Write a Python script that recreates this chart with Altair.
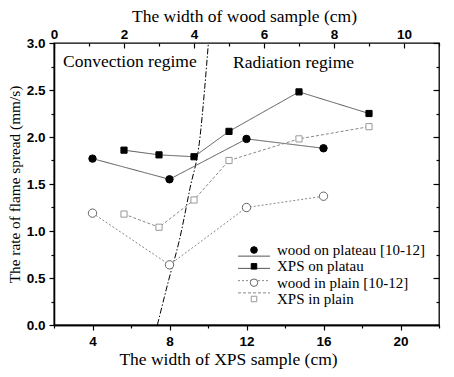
import altair as alt
import pandas as pd

# ---------------- data ----------------
wood_width_xps_axis = [4, 8, 12, 16]          # plotted against the XPS (bottom) axis
wood_plateau = [1.77, 1.55, 1.98, 1.88]
wood_plain = [1.19, 0.64, 1.25, 1.37]
xps_width_wood_axis = [2, 3, 4, 5, 7, 9]      # plotted against the wood (top) axis
xps_plateau = [1.86, 1.81, 1.79, 2.06, 2.48, 2.25]
xps_plain = [1.18, 1.04, 1.33, 1.75, 1.98, 2.11]
boundary_x = [7.37, 7.96, 8.51, 9.06, 9.58, 9.82, 10.02]
boundary_y = [0.0, 0.48, 0.90, 1.45, 1.99, 2.50, 3.00]
regime_labels = ["Convection regime", "Radiation regime"]
regime_x = [2.47, 11.3]
regime_y = [2.74, 2.73]
series_names = ["wood on plateau [10-12]", "XPS on platau", "wood in plain [10-12]", "XPS in plain"]
bottom_major = [4, 8, 12, 16, 20]
bottom_minor = [2, 6, 10, 14, 18, 22]
top_major = [0, 2, 4, 6, 8, 10]
top_minor = [1, 3, 5, 7, 9, 11]
y_major = [0, 0.5, 1, 1.5, 2, 2.5, 3]
y_minor = [0.25, 0.75, 1.25, 1.75, 2.25, 2.75]

W, H = 385, 282
SERIF = "Liberation Serif"
SANS = "Liberation Sans"


def sx_b():
    return alt.Scale(domain=[2, 22], nice=False, zero=False)


def sx_t():
    return alt.Scale(domain=[0, 11], nice=False, zero=False)


def sy():
    return alt.Scale(domain=[0, 3], nice=False, zero=False)


common = dict(grid=False, domainColor="black", domainWidth=1.3, tickColor="black",
              tickWidth=1.2, labelFont=SANS, labelFontWeight="bold", labelFontSize=13.5,
              labelColor="black", labelFlush=False, titleFont=SERIF,
              titleFontWeight="normal", titleColor="black")

bottom_major_axis = alt.Axis(orient="bottom", values=bottom_major, tickSize=5, labelPadding=4,
                             format="d", title="The width of  XPS sample (cm)", titleX=174,
                             titleY=39, titleAlign="center", titleBaseline="alphabetic",
                             titleFontSize=17.5, **common)
bottom_minor_axis = alt.Axis(orient="bottom", values=bottom_minor, tickSize=3, labels=False,
                             title=None, **common)
left_major_axis = alt.Axis(orient="left", values=y_major, tickSize=5, labelPadding=4,
                           format=".1f", title="The rate of flame spread (mm/s)", titleAngle=270,
                           titleX=-40, titleY=141, titleAlign="center", titleBaseline="middle",
                           titleFontSize=15.3, **common)
left_minor_axis = alt.Axis(orient="left", values=y_minor, tickSize=3, labels=False,
                           title=None, **common)
top_major_axis = alt.Axis(orient="top", values=top_major, tickSize=5, offset=-5, domain=False,
                          labelPadding=2, format="d", title="The width of wood sample (cm)",
                          titleX=190, titleY=-27, titleAlign="center",
                          titleBaseline="alphabetic", titleFontSize=17.5, **common)
top_minor_axis = alt.Axis(orient="top", values=top_minor, tickSize=3, offset=-3, domain=False,
                          labels=False, title=None, **common)
right_major_axis = alt.Axis(orient="right", values=y_major, tickSize=6, offset=-6, domain=False,
                            labels=False, title=None, **common)
right_minor_axis = alt.Axis(orient="right", values=y_minor, tickSize=3, offset=-3, domain=False,
                            labels=False, title=None, **common)

dummy = pd.DataFrame({"x": [5], "y": [1]})
dummy_t = pd.DataFrame({"x": [5], "y": [1]})

axis_layers = [
    alt.Chart(dummy).mark_point(opacity=0).encode(
        x=alt.X("x:Q", scale=sx_b(), axis=bottom_major_axis),
        y=alt.Y("y:Q", scale=sy(), axis=left_major_axis)),
    alt.Chart(dummy).mark_point(opacity=0).encode(
        x=alt.X("x:Q", scale=sx_b(), axis=bottom_minor_axis),
        y=alt.Y("y:Q", scale=sy(), axis=left_minor_axis)),
    alt.Chart(dummy_t).mark_point(opacity=0).encode(
        x=alt.X("x:Q", scale=sx_t(), axis=top_major_axis),
        y=alt.Y("y:Q", scale=sy(), axis=right_major_axis)),
    alt.Chart(dummy_t).mark_point(opacity=0).encode(
        x=alt.X("x:Q", scale=sx_t(), axis=top_minor_axis),
        y=alt.Y("y:Q", scale=sy(), axis=right_minor_axis)),
]

wood_df = pd.DataFrame({"x": wood_width_xps_axis, "plateau": wood_plateau, "plain": wood_plain})
xps_df = pd.DataFrame({"x": xps_width_wood_axis, "plateau": xps_plateau, "plain": xps_plain})
bound_df = pd.DataFrame({"x": boundary_x, "y": boundary_y})
regime_df = pd.DataFrame({"label": regime_labels, "x": regime_x, "y": regime_y})

styles = [
    dict(line="#555555", dash=[1, 0], shape="circle", fill="black", stroke="black", size=55),
    dict(line="#555555", dash=[1, 0], shape="square", fill="black", stroke="black", size=38),
    dict(line="#888888", dash=[2, 2], shape="circle", fill="white", stroke="#666666", size=70),
    dict(line="#888888", dash=[3, 2], shape="square", fill="white", stroke="#999999", size=38),
]


def xb(field):
    return alt.X(f"{field}:Q", scale=sx_b(), axis=None)


def xt(field):
    return alt.X(f"{field}:Q", scale=sx_t(), axis=None)


def yq(field):
    return alt.Y(f"{field}:Q", scale=sy(), axis=None)


boundary = alt.Chart(bound_df).mark_line(color="black", strokeWidth=1, strokeDash=[6, 2, 1.5, 2],
                                         interpolate="monotone").encode(x=xb("x"), y=yq("y"))

series_specs = [
    (wood_df, "plateau", xb, styles[0]),
    (xps_df, "plateau", xt, styles[1]),
    (wood_df, "plain", xb, styles[2]),
    (xps_df, "plain", xt, styles[3]),
]

line_layers = []
point_layers = []
for df, col, xf, st in series_specs:
    line_layers.append(
        alt.Chart(df).mark_line(color=st["line"], strokeWidth=1, strokeDash=st["dash"]).encode(
            x=xf("x"), y=yq(col)))
    point_layers.append(
        alt.Chart(df).mark_point(shape=st["shape"], filled=True, fill=st["fill"], stroke=st["stroke"],
                                 strokeWidth=1, size=st["size"], opacity=1, fillOpacity=1).encode(
            x=xf("x"), y=yq(col)))

regimes = alt.Chart(regime_df).mark_text(font=SERIF, fontSize=17.5, align="left",
                                         baseline="alphabetic", color="black").encode(
    x=xb("x"), y=yq("y"), text="label:N")

legend_layers = []
for name, st in zip(series_names, styles):
    ldf = pd.DataFrame({"name": [name]})
    ly = alt.Y("name:N", scale=alt.Scale(domain=series_names, range=[207, 256], padding=0),
               axis=None)
    legend_layers.append(
        alt.Chart(ldf).mark_rule(color=st["line"], strokeWidth=1, strokeDash=st["dash"]).encode(
            x=alt.value(184), x2=alt.value(216), y=ly))
    legend_layers.append(
        alt.Chart(ldf).mark_point(shape=st["shape"], filled=True, fill=st["fill"],
                                  stroke=st["stroke"], strokeWidth=1, size=st["size"] * 0.8,
                                  opacity=1, fillOpacity=1).encode(x=alt.value(200), y=ly))
    legend_layers.append(
        alt.Chart(ldf).mark_text(font=SERIF, fontSize=15, align="left", baseline="middle",
                                 color="black").encode(x=alt.value(223), y=ly, text="name:N"))

chart = alt.layer(
    *axis_layers, boundary, *line_layers, *point_layers, regimes, *legend_layers
).resolve_scale(x="independent", y="independent").properties(
    width=W, height=H,
    padding={"left": 54, "top": 43, "right": 15, "bottom": 52},
    autosize=alt.AutoSizeParams(type="none"),
    background="white",
).configure_view(stroke="black", strokeWidth=1.3)

chart.save("out.html", embed_options={"renderer": "svg", "actions": False})
